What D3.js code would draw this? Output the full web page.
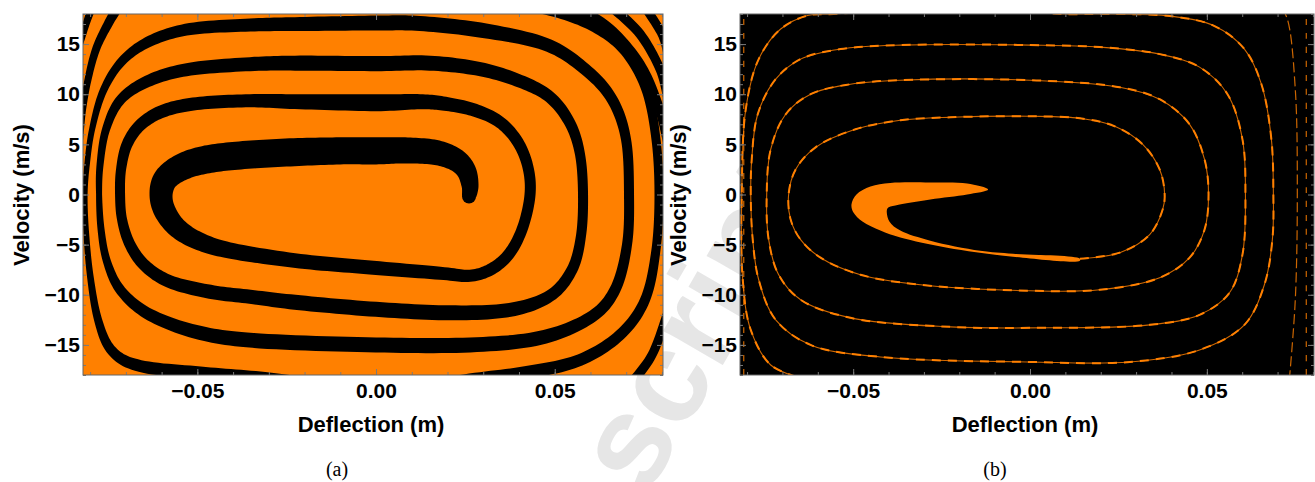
<!DOCTYPE html>
<html><head><meta charset="utf-8">
<script src="https://cdn.jsdelivr.net/npm/d3@7"></script>
<style>
html,body{margin:0;padding:0;background:#fff;}
svg{display:block;}
</style></head>
<body>
<svg id="chart" width="1315" height="482"></svg>
<script>
// ---------------- data ----------------
const deflectionDomain = [-0.082, 0.0803];
const velocityDomain = [-18, 18];
const deflectionTicks = [-0.05, 0, 0.05];
const deflectionTickLabels = ["\u22120.05", "0.00", "0.05"];
const velocityTicks = [-15, -10, -5, 0, 5, 10, 15];
const velocityTickLabels = ["\u221215", "\u221210", "\u22125", "0", "5", "10", "15"];
const panelLabels = ["(a)", "(b)"];
const xTitle = "Deflection (m)";
const yTitle = "Velocity (m/s)";
const watermarkText = "script";

// Panel (a): black basin spiral, centre line (deflection m, velocity m/s) and band width (m/s)
const spiralA_x = [0.02602,0.02630,0.02518,0.02210,0.01651,0.00811,0,-0.01007,-0.02406,-0.03805,-0.04729,-0.05400,-0.05876,-0.06016,-0.05904,-0.05540,-0.04924,-0.04001,-0.02126,-0.00252,0.01791,0.02630,0.03246,0.03749,0.04113,0.04309,0.04253,0.03973,0.03470,0.02770,0.01931,0.01231,0,-0.02126,-0.03525,-0.04924,-0.05904,-0.06575,-0.06967,-0.07135,-0.07163,-0.07107,-0.06883,-0.06463,-0.05764,-0.04645,-0.03525,-0.02126,0,0.02071,0.03749,0.04869,0.05484,0.05736,0.05792,0.05708,0.05428,0.04869,0.04029,0.02910,0.01511,0,-0.02126,-0.03525,-0.05204,-0.06323,-0.07135,-0.07555,-0.07722,-0.07750,-0.07694,-0.07527,-0.07135,-0.06323,-0.04924,-0.03246,0,0.02630,0.04589,0.05988,0.06687,0.07023,0.07079,0.06995,0.06603,0.05848,0.04729,0.02910,0.01231,0,-0.02126,-0.03525,-0.05204,-0.06323,-0.07107,-0.07638,-0.07946,-0.08086,-0.08142,-0.08114,-0.08002,-0.07778,-0.07387,-0.06603,-0.04924,-0.03246,-0.01763,0.00672,0.02630,0.04309,0.05708,0.06827,0.07527,0.07834,0.07918,0.07834,0.07555,0.06967,0.06128,0.05008,0.03470];
const spiralA_v = [-0.2,0.9,2.4,3.5,4.2,4.4,4.35,4.35,4.2,3.9,3.5,2.8,1.6,0,-1.7,-3.4,-4.7,-5.65,-6.65,-7.25,-7.85,-8.1,-7.4,-5.8,-3.2,0,2.7,5.2,7.2,8.4,9.05,9.25,9.15,9.25,9.35,9.1,8.4,7.0,5.0,2.5,0,-2.5,-5.0,-7.1,-8.7,-9.7,-10.2,-10.8,-11.45,-11.8,-11.5,-10.1,-7.5,-4.1,0,4.0,7.1,9.7,11.3,12.5,13.1,13.05,13.1,13.0,12.5,11.4,9.5,6.5,3.0,0,-3.5,-6.7,-9.6,-12.0,-13.8,-14.6,-15.0,-15.0,-14.3,-12.3,-9.5,-5.0,0,5.5,9.5,12.5,15.0,16.4,17.05,17.1,17.0,16.9,16.5,15.3,13.3,10.3,6.5,3.0,0,-3.5,-8.0,-12.5,-15.6,-17.1,-17.8,-18.3,-18.9,-19.5,-18.5,-17.7,-16.5,-14.0,-10.5,-5.5,0,5.5,10.5,14.3,16.7,18.3,19.5];
const spiralA_w = [1.4,1.7,2.0,2.3,2.5,2.6,2.7,2.7,2.8,2.8,2.8,2.7,2.5,2.3,2.2,2.0,1.8,1.6,1.45,1.4,1.3,1.2,1.2,1.15,1.1,1.1,1.1,1.15,1.2,1.3,1.4,1.5,1.7,1.5,1.3,1.3,1.3,1.2,1.1,1.0,1.0,1.0,1.1,1.2,1.3,1.4,1.4,1.5,1.5,1.5,1.4,1.2,1.1,1.0,1.0,1.0,1.1,1.2,1.3,1.4,1.5,1.5,1.5,1.4,1.3,1.2,1.0,0.8,0.7,0.6,0.7,0.8,1.0,1.2,1.4,1.5,1.5,1.5,1.4,1.2,1.1,1.0,1.0,1.0,1.1,1.2,1.3,1.5,1.5,1.5,1.4,1.3,1.2,1.1,0.9,0.75,0.6,0.55,0.5,0.55,0.65,0.8,1.0,1.2,1.3,1.3,1.3,1.3,1.3,1.3,1.2,1.1,1.0,0.9,0.9,0.9,0.95,1.0,1.1,1.2,1.3];

// Panel (a): outer turns of the basin cutting through the plot corners
const outerA_x = [
  [-0.07219,-0.07499,-0.07834,-0.08058,-0.08198,-0.08282],
  [-0.07946,-0.08114,-0.08282],
  [0.05568,0.06547,0.07387,0.07890,0.08170],
  [0.06603,0.07387,0.07946,0.08170],
  [0.07527,0.08002,0.08170],
  [0.07107,0.07722,0.08142]
];
const outerA_v = [
  [18.7,17.0,14.5,11.5,8.5,5.5],
  [18.7,17.0,15.0],
  [18.7,16.5,13.0,9.0,5.0],
  [18.7,16.0,12.5,9.5],
  [18.7,16.0,14.0],
  [-19.0,-16.0,-12.0]
];
const outerA_w = [
  [1.0,0.9,0.8,0.7,0.6,0.6],
  [0.8,0.7,0.6],
  [1.1,1.0,0.95,0.9,0.9],
  [1.0,0.95,0.9,0.9],
  [0.9,0.9,0.9],
  [1.0,0.9,0.9]
];

// Panel (b): orange crescent outline (outer edge from the tip, then inner edge back to the tip)
const crescentB_x = [-0.01184,-0.01777,-0.02820,-0.03948,-0.04512,-0.04907,-0.05048,-0.04992,-0.04738,-0.04230,-0.03666,-0.02341,-0.00479,0.01410,
                     0.01410,-0.00479,-0.01410,-0.02820,-0.03666,-0.03976,-0.04033,-0.03807,-0.02820,-0.01777];
const crescentB_v = [0.5,1.1,1.2,1.15,0.8,0,-1.0,-1.8,-2.7,-3.6,-4.3,-5.3,-6.2,-6.6,
                     -6.4,-5.9,-5.6,-4.6,-3.6,-2.7,-1.4,-1.1,-0.5,0.0];

// Panel (b): thin orange basin boundary spiral
const boundaryB_x = [0.01410,0.02538,0.03384,0.03751,0.03807,0.03666,0.03187,0.02397,0.01410,0,-0.02256,-0.03666,-0.04935,-0.06063,-0.06627,-0.06825,-0.06768,-0.06486,-0.05922,-0.04794,-0.03102,0,0.01974,0.03666,0.04512,0.04935,0.05048,0.04935,0.04512,0.03666,0.02538,0,-0.03666,-0.05076,-0.06204,-0.06909,-0.07332,-0.07445,-0.07389,-0.07107,-0.06486,-0.05076,-0.02256,0,0.03384,0.04794,0.05640,0.06007,0.06091,0.06007,0.05584,0.04794,0.03666,0.01974,0,-0.03666,-0.05358,-0.06486,-0.07191,-0.07699,-0.07868,-0.07896,-0.07840,-0.07671,-0.07191,-0.06204,-0.04230,0,0.02820,0.04794,0.06063,0.06627,0.06853,0.06881,0.06825,0.06543,0.06063,0.05217,0.03948,0.02256,0.00931,-0.00846,-0.03666,-0.05556,-0.06289,-0.0705,-0.07671,-0.08037,-0.0815,-0.08122,-0.07896,-0.07332,-0.06486];
const boundaryB_v = [-6.4,-5.8,-4.0,-1.5,0,2.5,5.0,6.8,7.6,7.8,7.7,7.4,6.5,4.7,2.5,0,-2.5,-4.5,-6.3,-8.0,-9.0,-9.6,-9.5,-8.3,-6.3,-3.5,0,3.5,7.0,9.5,10.7,11.4,11.4,11.0,10.0,8.0,4.5,0,-4.5,-8.0,-10.5,-12.3,-13.2,-13.3,-13.0,-12.0,-9.8,-6.0,0,5.5,10.0,12.7,14.0,14.7,14.9,14.9,14.5,13.5,11.5,8.0,3.5,0,-4.5,-8.5,-12.5,-15.0,-16.2,-16.7,-16.7,-15.5,-13.0,-9.0,-4.5,0,5.5,11.0,14.5,16.8,17.8,18.0,18.0,18.4,18.4,18.0,17.85,16.5,13.5,8.5,0,-8.5,-13.5,-17.0,-18.3];

// Panel (b): faint boundary traces near the side edges
const edgeB_x = [
  [0.07332,0.07501,0.07558,0.07501,0.07276,0.0705],
  [0.07812,0.07812,0.07812],
  [-0.08094,-0.08094,-0.08094]
];
const edgeB_v = [
  [-18.5,-10.5,0,10.5,17.5,19],
  [-18,0,18],
  [-18,0,18]
];

// ---------------- drawing ----------------
const svg = d3.select("#chart");
const ORANGE = "#ff8000";

// watermark (behind everything)
svg.append("text")
  .attr("transform", "translate(646,498) rotate(-60)")
  .attr("font-family", "Liberation Sans, Arial, sans-serif")
  .attr("font-weight", "bold")
  .attr("font-size", 130)
  .attr("fill", "#e6e6e6")
  .text(watermarkText);

function bandPath(xs, vs, ws, x, y) {
  const k = Math.abs(y(1) - y(0));
  const pts = xs.map((d, i) => [x(d), y(vs[i]), ws[i] * k]);
  const n = pts.length, dense = [];
  for (let i = 0; i < n - 1; i++) {
    const p0 = pts[Math.max(i - 1, 0)], p1 = pts[i], p2 = pts[i + 1], p3 = pts[Math.min(i + 2, n - 1)];
    const steps = 12;
    for (let s = 0; s < steps; s++) {
      const t = s / steps, t2 = t * t, t3 = t2 * t;
      const f = (a, b, c, d) => 0.5 * (2 * b + (-a + c) * t + (2 * a - 5 * b + 4 * c - d) * t2 + (-a + 3 * b - 3 * c + d) * t3);
      dense.push([f(p0[0], p1[0], p2[0], p3[0]), f(p0[1], p1[1], p2[1], p3[1]), p1[2] + (p2[2] - p1[2]) * t]);
    }
  }
  dense.push(pts[n - 1]);
  const left = [], right = [];
  for (let i = 0; i < dense.length; i++) {
    const a = dense[Math.max(i - 1, 0)], b = dense[Math.min(i + 1, dense.length - 1)];
    const dx = b[0] - a[0], dy = b[1] - a[1], L = Math.hypot(dx, dy) || 1;
    const nx = -dy / L, ny = dx / L, h = dense[i][2] / 2;
    left.push([dense[i][0] + nx * h, dense[i][1] + ny * h]);
    right.push([dense[i][0] - nx * h, dense[i][1] - ny * h]);
  }
  return { d: d3.line()(left.concat(right.reverse())) + "Z", start: pts[0], end: pts[n - 1] };
}

function panel(id, left, right, top, bottom, bg, drawContent, label, labelX, titleY) {
  const x = d3.scaleLinear().domain(deflectionDomain).range([left, right]);
  const y = d3.scaleLinear().domain(velocityDomain).range([bottom, top]);
  const g = svg.append("g");
  g.append("clipPath").attr("id", "clip" + id)
    .append("rect").attr("x", left).attr("y", top).attr("width", right - left).attr("height", bottom - top);
  const plot = g.append("g").attr("clip-path", `url(#clip${id})`);
  plot.append("rect").attr("x", left).attr("y", top).attr("width", right - left).attr("height", bottom - top).attr("fill", bg);
  drawContent(plot, x, y);

  const tickColor = "#7a7a7a";
  const minorX = d3.range(-8, 9).map(d => d / 100);
  const minorY = d3.range(-18, 19);
  const axes = [
    [d3.axisBottom(x).tickValues(minorX).tickFormat("").tickSize(-3), `translate(0,${bottom})`],
    [d3.axisTop(x).tickValues(minorX).tickFormat("").tickSize(-3), `translate(0,${top})`],
    [d3.axisLeft(y).tickValues(minorY).tickFormat("").tickSize(-3), `translate(${left},0)`],
    [d3.axisRight(y).tickValues(minorY).tickFormat("").tickSize(-3), `translate(${right},0)`],
    [d3.axisTop(x).tickValues(deflectionTicks).tickFormat("").tickSize(-6), `translate(0,${top})`],
    [d3.axisRight(y).tickValues(velocityTicks).tickFormat("").tickSize(-6), `translate(${right},0)`]
  ];
  axes.forEach(([ax, tr]) => {
    const a = g.append("g").attr("transform", tr).call(ax);
    a.select(".domain").remove();
    a.selectAll("line").attr("stroke", tickColor);
  });
  const xa = g.append("g").attr("transform", `translate(0,${bottom})`)
    .call(d3.axisBottom(x).tickValues(deflectionTicks).tickFormat((d, i) => deflectionTickLabels[i]).tickSize(-6).tickPadding(8));
  const ya = g.append("g").attr("transform", `translate(${left},0)`)
    .call(d3.axisLeft(y).tickValues(velocityTicks).tickFormat((d, i) => velocityTickLabels[i]).tickSize(-6).tickPadding(3));
  [xa, ya].forEach(a => {
    a.select(".domain").remove();
    a.selectAll("line").attr("stroke", tickColor);
    a.selectAll("text").attr("fill", "#000").attr("font-family", "Liberation Sans, Arial, sans-serif")
      .attr("font-weight", "bold").attr("font-size", 21);
  });
  g.append("rect").attr("x", left).attr("y", top).attr("width", right - left).attr("height", bottom - top)
    .attr("fill", "none").attr("stroke", "#666").attr("stroke-width", 1);

  g.append("text").attr("x", (left + right) / 2 - 2).attr("y", 432).attr("text-anchor", "middle")
    .attr("font-family", "Liberation Sans, Arial, sans-serif").attr("font-weight", "bold").attr("font-size", 22)
    .text(xTitle);
  g.append("text").attr("transform", `translate(${titleY},195) rotate(-90)`).attr("text-anchor", "middle")
    .attr("font-family", "Liberation Sans, Arial, sans-serif").attr("font-weight", "bold").attr("font-size", 22)
    .text(yTitle);
  g.append("text").attr("x", labelX).attr("y", 476).attr("text-anchor", "middle")
    .attr("font-family", "Liberation Serif, Times New Roman, serif").attr("font-size", 20)
    .text(label);
}

function drawBand(plot, xs, vs, ws, x, y, color, capStart) {
  const b = bandPath(xs, vs, ws, x, y);
  plot.append("path").attr("d", b.d).attr("fill", color);
  if (capStart) plot.append("circle").attr("cx", b.start[0]).attr("cy", b.start[1]).attr("r", b.start[2] / 2).attr("fill", color);
}

panel("a", 83, 663, 14, 375, ORANGE, (plot, x, y) => {
  drawBand(plot, spiralA_x, spiralA_v, spiralA_w, x, y, "#000", true);
  outerA_x.forEach((xs, i) => drawBand(plot, xs, outerA_v[i], outerA_w[i], x, y, "#000", false));
}, panelLabels[0], 337, 29);

panel("b", 740, 1314, 14, 375, "#000", (plot, x, y) => {
  const closed = d3.line().x(d => x(d[0])).y(d => y(d[1])).curve(d3.curveCatmullRomClosed.alpha(0.5));
  plot.append("path").attr("d", closed(crescentB_x.map((d, i) => [d, crescentB_v[i]]))).attr("fill", ORANGE);
  const line = d3.line().x(d => x(d[0])).y(d => y(d[1])).curve(d3.curveCatmullRom);
  plot.append("path").attr("d", line(boundaryB_x.map((d, i) => [d, boundaryB_v[i]])))
    .attr("fill", "none").attr("stroke", "#d06800").attr("stroke-width", 1.1);
  plot.append("path").attr("d", line(boundaryB_x.map((d, i) => [d, boundaryB_v[i]])))
    .attr("fill", "none").attr("stroke", ORANGE).attr("stroke-width", 2).attr("stroke-dasharray", "9 7");
  edgeB_x.forEach((xs, j) => {
    plot.append("path").attr("d", line(xs.map((d, i) => [d, edgeB_v[j][i]])))
      .attr("fill", "none").attr("stroke", ORANGE).attr("stroke-width", 1.2)
      .attr("stroke-dasharray", j === 0 ? "10 4" : "6 8").attr("opacity", 0.8);
  });
}, panelLabels[1], 995, 686);
</script>
</body></html>
